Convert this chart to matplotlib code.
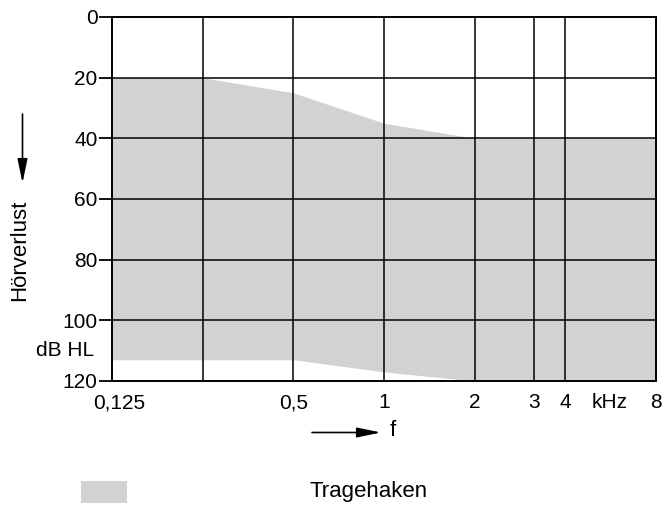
import numpy as np
import matplotlib
matplotlib.use("Agg")
import matplotlib.pyplot as plt
from matplotlib.patches import Rectangle, FancyArrowPatch
from matplotlib.transforms import ScaledTranslation

plt.rcParams['font.family'] = ['Liberation Sans', 'DejaVu Sans']

# Tragehaken range (dB HL) over frequency (kHz)
freq = [0.125, 0.25, 0.5, 1, 2, 8]
upper = [20, 20, 25, 35, 40, 40]
lower = [113, 113, 113, 117, 120, 120]

grid_freqs = [0.25, 0.5, 1, 2, 3.15, 4]
xtick_pos = [0.125, 0.5, 1, 2, 3.15, 4, 5.6, 8]
xtick_lab = ['0,125', '0,5', '1', '2', '3', '4', 'kHz', '8']
yticks = [0, 20, 40, 60, 80, 100, 120]
grid_levels = [20, 40, 60, 80, 100]

fs = 15
fig = plt.figure(figsize=(6.66, 5.14), dpi=100)
ax = fig.add_axes([112/666, 133/514, 544/666, 364/514])

ax.fill_between(freq, upper, lower, color='#d1d2d4', lw=0, zorder=1)
for g in grid_freqs:
    ax.axvline(g, color='black', lw=1.1, zorder=2)
for g in grid_levels:
    ax.axhline(g, color='black', lw=1.1, zorder=2)

ax.set_xscale('log', base=2)
ax.set_xlim(0.125, 8)
ax.set_ylim(120, 0)
ax.set_xticks(xtick_pos)
ax.set_xticklabels(xtick_lab)
ax.minorticks_off()
ax.set_yticks(yticks)
ax.tick_params(axis='x', length=0, pad=9, labelsize=fs)
ax.tick_params(axis='y', length=9.5, width=1.3, pad=1, labelsize=fs)
for s in ax.spines.values():
    s.set_linewidth(1.4)
# first label sits a little right of the axis
lab0 = ax.get_xticklabels()[0]
lab0.set_transform(lab0.get_transform() + ScaledTranslation(7/100, 0, fig.dpi_scale_trans))

ax.text(-0.033, 110, 'dB HL', transform=ax.get_yaxis_transform(),
        ha='right', va='center', fontsize=fs)

# axis labels with arrows
fig.text(20/666, 1 - 250/514, 'Hörverlust', rotation=90, ha='center', va='center', fontsize=16)
arrow_style = '-|>,head_length=1.45,head_width=0.3'
fig.add_artist(FancyArrowPatch((22.5/666, 1 - 114/514), (22.5/666, 1 - 183/514),
               transform=fig.transFigure, arrowstyle=arrow_style, shrinkA=0, shrinkB=0,
               mutation_scale=10, color='black', lw=1.2))
fig.add_artist(FancyArrowPatch((312/666, 1 - 432.5/514), (381/666, 1 - 432.5/514),
               transform=fig.transFigure, arrowstyle=arrow_style, shrinkA=0, shrinkB=0,
               mutation_scale=10, color='black', lw=1.2))
fig.text(393/666, 1 - 431/514, 'f', ha='center', va='center', fontsize=16)

# legend
fig.add_artist(Rectangle((81/666, 1 - 503/514), 46/666, 22/514, transform=fig.transFigure,
                         facecolor='#d1d2d4', edgecolor='none'))
fig.text(310/666, 1 - 492/514, 'Tragehaken', ha='left', va='center', fontsize=16)

fig.savefig('out.png', dpi=100)
